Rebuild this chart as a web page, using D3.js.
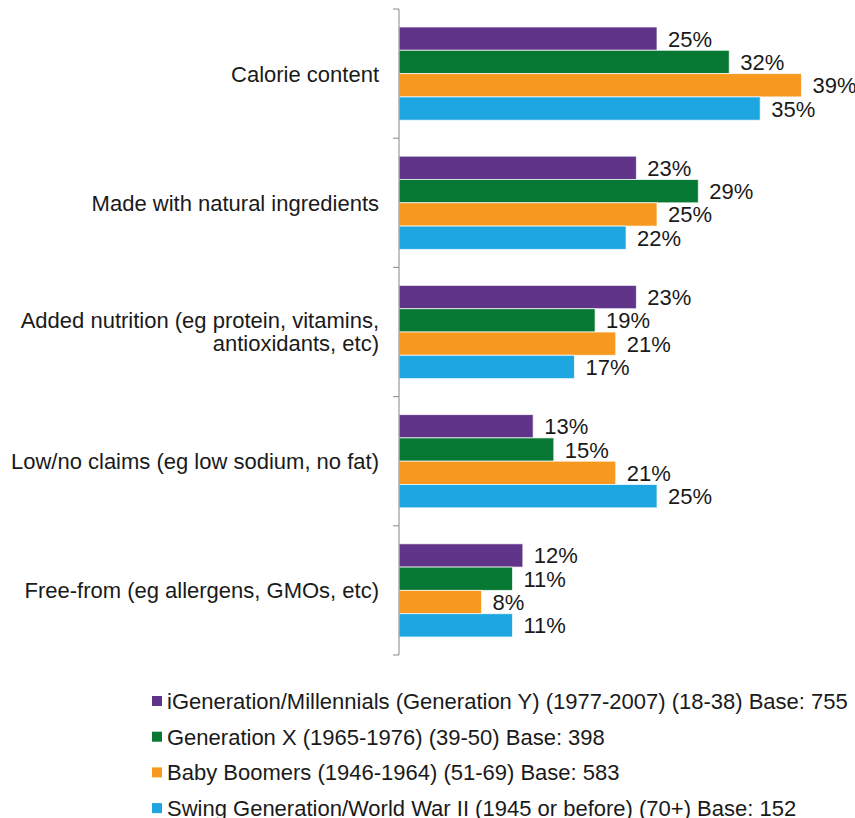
<!DOCTYPE html>
<html>
<head>
<meta charset="utf-8">
<script src="https://cdn.jsdelivr.net/npm/d3@7"></script>
<style>
  body { margin: 0; background: #fff; }
  text { font-family: "Liberation Sans", Arial, sans-serif; fill: #1a1a1a; font-size: 22px; }
</style>
</head>
<body>
<div id="chart"></div>
<script>
// Data
const categories = [
  ["Calorie content"],
  ["Made with natural ingredients"],
  ["Added nutrition (eg protein, vitamins,", "antioxidants, etc)"],
  ["Low/no claims (eg low sodium, no fat)"],
  ["Free-from (eg allergens, GMOs, etc)"]
];
const seriesNames = [
  "iGeneration/Millennials (Generation Y) (1977-2007) (18-38) Base: 755",
  "Generation X (1965-1976) (39-50) Base: 398",
  "Baby Boomers (1946-1964) (51-69) Base: 583",
  "Swing Generation/World War II (1945 or before) (70+) Base: 152"
];
const millennials = [25, 23, 23, 13, 12];
const genX = [32, 29, 19, 15, 11];
const boomers = [39, 25, 21, 21, 8];
const swing = [35, 22, 17, 25, 11];
const series = [millennials, genX, boomers, swing];
const colors = ["#603489", "#067834", "#f7981f", "#1da6e0"];

// Dimensions
const width = 855, height = 818;
const x0 = 399, plotTop = 9, plotBottom = 655;

const svg = d3.select("#chart").append("svg")
  .attr("width", width).attr("height", height);

const y = d3.scaleBand()
  .domain(d3.range(categories.length))
  .range([plotTop, plotBottom]);

const yInner = d3.scaleBand()
  .domain(d3.range(series.length))
  .range([18, y.bandwidth() - 18]);

const x = d3.scaleLinear()
  .domain([0, 25])
  .range([x0, 657]);

// Bars
const groups = svg.append("g").selectAll("g")
  .data(categories).enter()
  .append("g")
  .attr("transform", (d, i) => "translate(0," + y(i) + ")");

groups.each(function (c, ci) {
  const g = d3.select(this);
  series.forEach((s, si) => {
    g.append("rect")
      .attr("x", x(0))
      .attr("y", yInner(si))
      .attr("width", x(s[ci]) - x(0))
      .attr("height", yInner.bandwidth())
      .attr("fill", colors[si])
      .attr("stroke", "#ffffff")
      .attr("stroke-opacity", 0.7)
      .attr("stroke-width", 1);
    g.append("text")
      .attr("x", x(s[ci]) + 11)
      .attr("y", yInner(si) + yInner.bandwidth() / 2 + 8)
      .text(s[ci] + "%");
  });
  // category label
  const lh = 23;
  const cy = y.bandwidth() / 2 - (c.length - 1) * lh / 2;
  c.forEach((t, li) => {
    g.append("text")
      .attr("x", 379)
      .attr("y", cy + li * lh + 8)
      .attr("text-anchor", "end")
      .text(t);
  });
});

// Axis
svg.append("line")
  .attr("x1", x0).attr("x2", x0)
  .attr("y1", plotTop).attr("y2", plotBottom)
  .attr("stroke", "#999").attr("stroke-width", 1.2);
svg.append("g").selectAll("line")
  .data(d3.range(categories.length + 1)).enter()
  .append("line")
  .attr("x1", x0 - 6).attr("x2", x0)
  .attr("y1", i => plotTop + i * y.step())
  .attr("y2", i => plotTop + i * y.step())
  .attr("stroke", "#999").attr("stroke-width", 1.2);

// Legend
const legend = svg.append("g").selectAll("g")
  .data(seriesNames).enter()
  .append("g")
  .attr("transform", (d, i) => "translate(152," + (701 + i * 35.7) + ")");
legend.append("rect")
  .attr("x", 0).attr("y", -5)
  .attr("width", 10).attr("height", 10)
  .attr("fill", (d, i) => colors[i]);
legend.append("text")
  .attr("x", 15).attr("y", 8)
  .text(d => d);
</script>
</body>
</html>
